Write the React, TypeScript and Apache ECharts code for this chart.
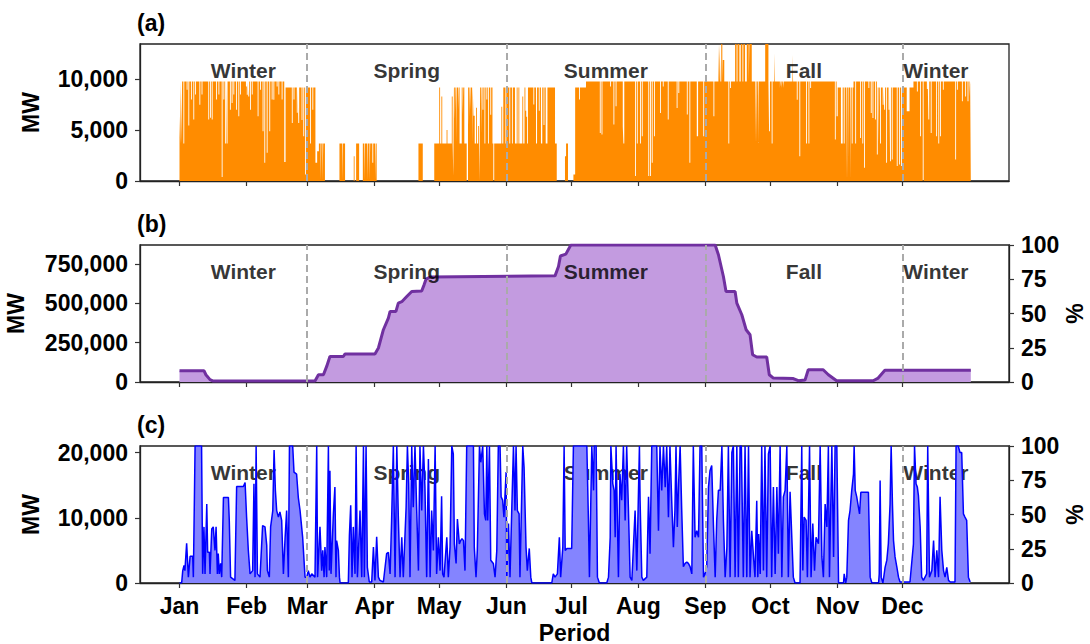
import React, { useEffect, useRef } from "react";
import * as echarts from "echarts";

// ---- calendar / axis data ----
const MONTHS = ["Jan", "Feb", "Mar", "Apr", "May", "Jun", "Jul", "Aug", "Sep", "Oct", "Nov", "Dec"];
const MONTH_START_DAYS = [0, 31, 59, 90, 120, 151, 181, 212, 243, 273, 304, 334];
const SEASON_NAMES = ["Winter", "Spring", "Summer", "Fall", "Winter"];
const SEASON_MID_DAYS = [29.5, 105, 197, 288.5, 349.5];
const SEASON_BOUNDARY_DAYS = [59, 151, 243, 334];

const A_MAX = 13450;
const B_MAX = 870000;
const C_MAX = 21000;
const A_TICKS = [0, 5000, 10000];
const B_TICKS = [0, 250000, 500000, 750000];
const C_TICKS = [0, 10000, 20000];
const PCT_TICKS = [0, 25, 50, 75, 100];

// ---- (a) dispatched power, step data: [day, MW] held until the next point ----
const dispatchA: [number, number][] = [
  [0, 6400], [0.3, 3680], [0.6, 9770], [0.9, 3680], [1.2, 9770],
  [1.8, 3680], [2.2, 9770], [3.3, 8960], [3.7, 9770], [4.1, 5440], [4.5, 9770],
  [5.3, 8000], [5.7, 9770], [6.4, 6030], [6.8, 9770], [7.2, 8500], [7.6, 9770],
  [9.2, 7490], [9.6, 9770], [10.2, 8500], [10.6, 9770], [13.3, 6030], [13.7, 9770],
  [14.1, 6200], [14.5, 9770], [14.9, 6030], [15.3, 9770], [16.9, 8000], [17.3, 9770],
  [18.0, 8500], [18.4, 9770], [19.5, 390], [19.9, 9770], [20.3, 8000], [20.7, 9770],
  [21.1, 3680], [21.5, 9770], [21.8, 3680], [22.2, 9770], [23.3, 7000], [23.7, 9770],
  [24.1, 7650], [24.5, 9770], [24.9, 8500], [25.3, 9770], [26.1, 7000], [26.5, 9770],
  [27.2, 6350], [27.6, 9770], [28.0, 8500], [28.4, 9770], [30.7, 9280], [31.1, 8470],
  [31.5, 9770], [31.8, 8300], [32.2, 9770], [32.6, 7000], [33.0, 9770], [33.4, 8500],
  [33.8, 9770], [36.1, 6350], [36.5, 9770], [37.2, 8960], [37.6, 9770], [38.4, 4890],
  [38.8, 9770], [39.2, 1790], [39.6, 9770], [40.3, 2770], [40.7, 9770], [41.5, 4890],
  [41.9, 9770], [42.6, 8000], [43.0, 9770], [43.4, 7980], [43.8, 9770], [44.9, 9280],
  [45.3, 9770], [45.7, 8500], [46.1, 9770], [47.2, 8000], [47.6, 9770], [48.4, 1860],
  [49.0, 9190], [51.9, 5700], [52.3, 9190], [52.7, 8000], [53.1, 9190], [54.2, 6700],
  [54.6, 9190], [54.9, 5700], [55.3, 9190], [56.4, 6000], [56.8, 9190], [57.2, 4400],
  [57.6, 9190], [58.0, 650], [58.4, 9190], [60.3, 3680], [60.7, 9190], [61.4, 7000],
  [61.8, 9190], [62.8, 1790], [63.6, 2930], [64.4, 3680], [65.2, 0], [65.5, 3680],
  [66.1, 0], [66.4, 3680], [67.2, 0],
  [73.9, 3680], [75.1, 0], [75.4, 3680], [76.5, 0], [80.5, 2440], [80.9, 0],
  [81.6, 3680], [83.0, 0], [84.7, 3680], [85.3, 0], [85.6, 3680], [86.7, 0],
  [87.0, 3680], [87.8, 0], [88.1, 3680], [89.1, 1800], [89.5, 3680], [90.4, 0],
  [90.7, 3680], [91.1, 0], [110.4, 3680], [112.4, 0],
  [117.7, 3680], [120.0, 9190], [120.4, 3680], [121.0, 8300], [121.4, 3680],
  [123.4, 5000], [123.8, 3680], [125.8, 8300], [126.2, 3680], [126.5, 500],
  [126.8, 9190], [127.2, 6000], [127.5, 9190], [127.9, 3680], [128.2, 9190],
  [128.7, 7000], [129.0, 9190], [129.4, 3680], [130.4, 9190], [130.8, 6500],
  [131.1, 9190], [131.6, 3680], [132.7, 0], [133.3, 9190], [133.7, 5500],
  [134.0, 9190], [134.4, 7000], [134.7, 9190], [135.2, 3680], [135.5, 9190],
  [135.8, 6400], [136.4, 3680], [137.0, 7200], [137.4, 3680], [138.0, 5400],
  [138.4, 3680], [138.6, 0], [138.9, 9190], [139.3, 4500], [139.6, 9190],
  [140.0, 7000], [140.4, 9190], [140.9, 3680], [141.3, 9190], [141.8, 8000],
  [142.2, 9190], [142.6, 3680], [143.0, 9190], [143.6, 6500], [144.0, 9190],
  [144.6, 3680], [145.0, 0], [145.4, 3680], [148.7, 7300], [149.1, 3680],
  [149.6, 9190], [150.6, 3680], [151.0, 9190], [152.4, 3680], [152.8, 9190],
  [153.6, 3680], [154.0, 9190], [155.0, 3680], [155.8, 9190], [156.2, 3680],
  [156.6, 9190], [157.0, 3680], [158.4, 8300], [158.8, 3680], [159.4, 9190],
  [159.8, 6900], [160.2, 6300], [160.6, 3680], [161.0, 9190], [163.5, 7500],
  [163.9, 9190], [164.7, 3680], [165.2, 9190], [166.0, 6900], [166.4, 9190],
  [167.0, 3680], [167.6, 9190], [168.2, 5500], [168.6, 9190], [169.2, 3680],
  [170.0, 9190], [173.5, 3680], [174.3, 0], [178.1, 2440], [178.6, 3680],
  [179.5, 0], [182.0, 650], [182.8, 9190], [184.6, 8000], [185.0, 9190],
  [187.8, 9770], [194.2, 4720], [194.6, 9770], [195.0, 4560], [195.4, 9770],
  [198.9, 9280], [199.3, 9770], [200.5, 5540], [200.9, 9770], [201.5, 7330],
  [201.9, 9770], [204.8, 5370], [205.1, 3680], [205.5, 9770], [210.5, 490],
  [210.9, 9770], [211.3, 3680], [211.7, 9770], [212.8, 3680], [213.2, 9770],
  [213.6, 4400], [214.0, 9770], [216.6, 490], [217.0, 9770], [217.4, 490],
  [217.8, 9770], [218.2, 1790], [218.6, 9770], [219.3, 4400], [219.7, 9770],
  [222.0, 6680], [222.4, 9770], [223.3, 9280], [223.7, 9770], [225.6, 6030],
  [226.0, 9770], [229.7, 7160], [230.1, 9770], [230.5, 8630], [230.9, 9770],
  [234.4, 6520], [234.8, 9770], [235.6, 1790], [236.0, 9770], [239.0, 4400],
  [239.6, 9770], [242.0, 4400], [242.4, 9770], [246.7, 6350], [247.1, 9770],
  [249.0, 13450], [249.3, 9770], [249.6, 13450], [249.9, 9770], [250.3, 13450],
  [250.8, 9770], [251.0, 11890], [251.7, 9770], [253.6, 3680], [254.0, 9770],
  [254.4, 9120], [254.8, 9770], [256.7, 13450], [257.4, 9770], [257.8, 13450],
  [258.7, 9770], [259.3, 13450], [260.1, 9770], [260.5, 13450], [261.3, 9770],
  [262.1, 13450], [263.0, 9770], [263.3, 13450], [264.4, 9770], [265.9, 3680],
  [266.2, 9770], [266.6, 3680], [266.9, 9770], [267.4, 3680], [267.7, 9770],
  [270.6, 13450], [272.1, 9770], [272.4, 4890], [272.8, 9770], [273.6, 3680],
  [274.0, 9770], [274.7, 12540], [275.0, 9770], [277.4, 9120], [277.7, 9770],
  [278.2, 9120], [278.5, 9770], [279.0, 9120], [279.3, 9770], [283.2, 12380],
  [283.5, 9770], [285.2, 7980], [285.6, 9770], [286.4, 2430], [286.8, 9770],
  [289.5, 3680], [289.9, 9770], [290.6, 3680], [291.0, 9770], [291.4, 9120],
  [291.8, 9770], [302.8, 4070], [303.2, 9770], [303.6, 6350], [304.1, 9190],
  [305.6, 3680], [306.4, 9190], [306.9, 3680], [307.3, 9190], [308.0, 0],
  [308.3, 9190], [308.8, 0], [309.1, 9190], [309.8, 0], [310.1, 9190],
  [310.6, 3680], [311.0, 9190], [311.4, 9770], [312.2, 3680], [312.6, 9770],
  [314.4, 4230], [314.8, 9770], [315.5, 3680], [315.9, 9770], [316.3, 1300],
  [316.7, 9770], [318.3, 9120], [318.7, 9770], [319.4, 6680], [319.8, 9770],
  [320.2, 6190], [320.6, 9770], [321.4, 6030], [321.8, 9770], [322.2, 2600],
  [322.6, 9190], [323.0, 3680], [323.3, 9190], [323.7, 3680], [324.1, 9190],
  [324.9, 7490], [325.3, 9190], [325.6, 7000], [326.0, 9190], [326.5, 1790],
  [326.9, 9190], [327.6, 7000], [328.0, 9190], [328.3, 1950], [328.7, 9190],
  [329.1, 2120], [329.5, 9190], [331.4, 1470], [331.8, 9190], [332.5, 1630],
  [332.9, 9190], [333.4, 1470], [333.8, 9190], [336.0, 6840], [337.3, 9190],
  [339.1, 9770], [340.7, 8790], [341.1, 9770], [342.2, 4400], [342.6, 9770],
  [343.4, 0], [343.8, 9770], [345.3, 9020], [345.7, 9770], [346.0, 6030],
  [346.4, 9770], [347.1, 4720], [347.5, 9770], [349.6, 4400], [350.0, 9770],
  [350.6, 3680], [351.0, 9770], [351.4, 4400], [351.8, 9770], [352.7, 8960],
  [353.1, 9770], [358.4, 2120], [358.8, 9770], [359.2, 8960], [359.6, 9770],
  [361.5, 7820], [361.9, 9770], [363.0, 8300], [363.4, 9770], [364.1, 7820],
  [364.5, 9770], [365.0, 8300], [365.3, 9770], [365.6, 0],
];

// ---- (b) stored level: [day, MW] ----
const storageB: [number, number][] = [
  [0, 72000], [11.3, 72000], [12.2, 46000], [14.1, 15000], [15.6, 6000], [62.6, 6000],
  [64.2, 46000], [66.5, 46000], [68.0, 99000], [69.5, 162000], [75.7, 162000],
  [76.5, 178000], [90.3, 178000], [91.9, 216000], [94.2, 332000], [96.5, 406000],
  [97.3, 448000], [100.0, 448000], [101.1, 501000], [102.7, 510000], [105.0, 543000],
  [107.3, 575000], [111.9, 578000], [113.0, 617000], [113.9, 653000], [115.8, 666000],
  [173.5, 674000], [175.1, 733000], [176.0, 800000], [178.5, 812000], [180.8, 870000],
  [247.5, 870000], [249.0, 808000], [251.3, 670000], [252.5, 575000], [256.7, 575000],
  [257.5, 501000], [259.8, 427000], [261.8, 332000], [263.6, 300000], [264.8, 173000],
  [266.7, 159000], [271.3, 159000], [272.5, 46000], [274.4, 25000], [283.6, 22000],
  [285.9, 8000], [289.0, 12000], [290.5, 78000], [297.4, 78000], [299.8, 46000],
  [303.6, 8000], [320.5, 8000], [322.8, 25000], [325.9, 74000], [365.6, 74000],
];

// ---- (c) flow: [day, MW] ----
const flowC: [number, number][] = [
  [0, 0], [1.0, 0], [1.5, 1900], [2.1, 2700], [2.5, 1900], [3.3, 6100], [4.1, 900], [4.9, 4100],
  [6.1, 4100], [6.4, 900], [7.2, 21000], [10.2, 21000], [10.7, 1400], [11.3, 8600], [11.8, 1400],
  [12.6, 12100], [13.0, 4700], [13.8, 4700], [14.1, 1400], [14.9, 8300], [15.6, 8600], [16.4, 5000],
  [16.9, 8600], [17.5, 1400], [17.9, 4500], [18.4, 1400], [19.0, 3000], [19.5, 900], [20.3, 13100],
  [22.6, 13100], [23.0, 9600], [23.6, 900], [25.6, 400], [26.4, 14800], [29.5, 14800], [30.3, 15400],
  [31.0, 10100], [31.8, 5000], [32.6, 1400], [33.8, 1900], [34.4, 15200], [34.9, 900], [35.4, 21000],
  [36.0, 1400], [37.2, 900], [38.4, 8800], [39.5, 8600], [40.3, 5800], [40.6, 1900], [41.5, 900],
  [42.1, 8600], [43.1, 11100], [43.7, 20400], [44.3, 14200], [44.9, 11100], [45.7, 10100],
  [46.4, 10900], [47.2, 9600], [48.0, 1400], [48.8, 7000], [49.5, 11100], [50.3, 900], [50.8, 21000],
  [52.3, 21000], [52.9, 17000], [54.1, 16700], [54.9, 13100], [55.7, 11100], [56.9, 7000], [58.0, 900],
  [58.8, 900], [59.5, 1900], [60.3, 900], [61.1, 1400], [62.6, 900], [63.4, 21000], [63.8, 900],
  [64.9, 8600], [65.7, 1900], [66.2, 5000], [66.8, 900], [67.2, 5500], [68.0, 900], [68.8, 21000],
  [69.2, 1900], [69.5, 17200], [70.0, 1400], [71.1, 10600], [71.8, 14700], [72.3, 900], [72.6, 6500],
  [73.4, 5000], [73.9, 900], [74.2, 0], [78.0, 0], [78.5, 7300], [79.1, 11900], [79.7, 900],
  [80.3, 8600], [81.1, 1400], [81.6, 21000], [82.2, 900], [82.6, 4000], [83.4, 11100], [84.2, 900],
  [85.0, 21000], [85.4, 900], [86.2, 21000], [86.8, 2400], [87.7, 150], [88.8, 150], [89.6, 5500],
  [90.3, 400], [91.1, 7100], [91.9, 900], [92.6, 400], [94.2, 150], [95.7, 4500], [96.5, 4700],
  [97.3, 1400], [98.0, 9600], [98.8, 21000], [99.6, 900], [100.4, 21000], [101.1, 10100], [101.9, 900],
  [102.7, 7000], [103.4, 900], [104.7, 11600], [105.3, 21000], [105.9, 15200], [106.5, 900],
  [107.3, 21000], [108.0, 11600], [108.8, 21000], [109.6, 11100], [110.4, 1900], [111.1, 21000],
  [111.9, 11100], [112.7, 21000], [113.4, 14700], [114.2, 900], [115.0, 19000], [115.8, 900],
  [116.5, 11100], [117.3, 5000], [118.1, 21000], [118.8, 1400], [119.6, 7000], [120.4, 1900],
  [121.1, 13300], [121.6, 1400], [122.2, 900], [123.5, 7000], [124.2, 900], [125.0, 5500],
  [125.8, 21000], [126.5, 19800], [127.0, 6000], [127.8, 3000], [128.4, 9800], [129.3, 6000],
  [129.9, 6500], [130.5, 6800], [131.2, 6500], [131.9, 1900], [132.7, 21000], [135.8, 21000],
  [136.2, 5500], [137.0, 900], [137.6, 5000], [138.6, 21000], [139.2, 18500], [140.1, 21000],
  [140.9, 10600], [141.5, 9600], [142.0, 21000], [142.4, 9600], [143.2, 21000], [143.8, 3500],
  [145.0, 3000], [145.8, 900], [146.6, 5000], [147.3, 21000], [148.1, 21000], [148.6, 13200],
  [149.3, 12700], [149.9, 10100], [150.9, 17000], [151.2, 900], [152.0, 9100], [152.7, 900],
  [153.5, 11100], [154.3, 21000], [155.0, 11100], [155.5, 21000], [156.1, 11100], [156.9, 10600],
  [157.3, 900], [158.6, 21000], [159.2, 17700], [160.1, 5500], [160.7, 1900], [161.6, 5300],
  [162.3, 900], [162.8, 0], [172.0, 0], [172.7, 1400], [173.5, 900], [174.6, 1400], [175.5, 7000],
  [176.1, 900], [177.1, 5500], [177.7, 21000], [178.2, 5000], [179.0, 5300], [181.2, 5300],
  [182.0, 21000], [188.2, 21000], [188.9, 10100], [189.4, 900], [190.5, 21000], [191.3, 14200],
  [191.6, 21000], [192.5, 21000], [193.1, 900], [194.0, 0], [197.4, 0], [198.2, 900], [199.0, 7000],
  [199.3, 21000], [200.2, 15200], [200.8, 14200], [201.3, 7000], [201.7, 21000], [202.8, 900],
  [203.5, 16700], [204.3, 12700], [205.1, 21000], [205.9, 9600], [206.6, 21000], [207.4, 11600],
  [208.2, 900], [209.0, 400], [210.5, 11100], [211.3, 1900], [212.5, 21000], [212.8, 12700],
  [213.6, 900], [214.3, 400], [215.9, 900], [216.7, 13200], [217.4, 4500], [218.2, 21000],
  [220.5, 21000], [221.3, 8000], [222.0, 21000], [222.8, 14200], [223.6, 21000], [224.4, 14700],
  [225.1, 21000], [225.9, 10100], [226.6, 21000], [227.4, 12700], [228.2, 5500], [228.9, 11100],
  [229.4, 21000], [230.0, 8600], [230.6, 15200], [231.3, 21000], [232.0, 11600], [232.8, 2500],
  [233.6, 3000], [234.4, 3200], [235.1, 3000], [235.9, 2500], [236.7, 1400], [237.4, 21000],
  [238.2, 7000], [239.0, 8000], [239.8, 7000], [240.5, 21000], [241.3, 21000], [242.1, 900],
  [242.8, 1400], [243.6, 2500], [244.4, 14700], [245.1, 17200], [245.9, 18000], [246.7, 8800],
  [247.5, 900], [248.2, 9600], [249.0, 14200], [249.8, 14200], [250.6, 21000], [251.3, 9600],
  [252.1, 900], [252.9, 5500], [253.6, 21000], [254.4, 900], [255.2, 20000], [255.9, 21000],
  [256.7, 900], [257.5, 21000], [258.2, 900], [259.0, 21000], [259.6, 21000], [260.5, 900],
  [261.3, 21000], [262.1, 900], [262.9, 21000], [263.6, 900], [264.4, 8000], [265.2, 4000],
  [265.9, 900], [266.7, 12600], [267.2, 900], [267.6, 7500], [268.3, 1400], [269.0, 21000],
  [269.8, 1900], [270.5, 21000], [271.3, 900], [272.1, 19800], [272.9, 21000], [273.6, 900],
  [274.4, 14700], [275.2, 1400], [276.0, 14700], [276.7, 4500], [277.5, 21000], [278.3, 900],
  [279.0, 13200], [279.8, 14200], [280.6, 21000], [281.3, 900], [282.1, 14000], [282.9, 7000],
  [283.6, 900], [284.4, 0], [286.7, 0], [287.5, 21000], [288.0, 1900], [288.6, 10100], [289.5, 9600],
  [290.1, 900], [291.1, 21000], [291.8, 900], [292.6, 9100], [293.4, 1900], [294.1, 7000],
  [295.2, 6000], [296.0, 21000], [296.8, 4000], [297.5, 900], [298.3, 12100], [299.1, 8600],
  [299.8, 21000], [300.3, 900], [301.4, 21000], [302.2, 4000], [302.9, 21000], [303.7, 21000],
  [304.5, 0], [306.8, 0], [307.1, 1400], [307.8, 0], [308.3, 900], [309.1, 9600], [309.8, 11100],
  [310.6, 14200], [311.4, 16700], [311.7, 21000], [312.2, 14200], [312.9, 13200], [313.7, 11600],
  [314.2, 10600], [314.8, 13900], [318.3, 13900], [319.1, 900], [319.9, 0], [323.0, 0],
  [323.3, 1400], [323.7, 15700], [324.2, 900], [325.0, 0], [326.0, 2400], [326.8, 3500],
  [327.5, 6000], [328.3, 12100], [328.8, 21000], [329.4, 12100], [329.9, 6500], [330.6, 4000],
  [331.4, 2500], [332.2, 900], [332.9, 150], [337.5, 150], [339.1, 6000], [339.6, 21000],
  [340.3, 15200], [340.9, 14700], [341.4, 13400], [342.2, 8600], [342.9, 900], [343.7, 400],
  [345.2, 1400], [345.7, 21000], [346.5, 900], [347.6, 1900], [348.4, 6500], [349.1, 900],
  [349.9, 5000], [350.7, 900], [351.4, 13200], [352.2, 5000], [353.0, 1900], [353.7, 900],
  [354.5, 2400], [355.3, 400], [356.1, 150], [358.3, 150], [358.8, 21000], [359.8, 21000],
  [360.6, 20000], [361.4, 20000], [362.2, 10600], [362.9, 10100], [363.7, 9600], [364.5, 900],
  [365.3, 150],
];

const FONT = "'Liberation Sans', Arial, Helvetica, sans-serif";
const GRID_TOPS = [44, 245, 446];
const GRID_HEIGHT = 137;
const GRID_LEFT = 140;
const GRID_RIGHT = 81;
const X_MIN = -18.25;
const X_MAX = 383.25;

const fmt = (v: number) => Math.round(v).toLocaleString("en-US");

function buildOption() {
  const tickFont = { fontFamily: FONT, fontWeight: "bold" as const, fontSize: 23, color: "#000" };
  const nameFont = { fontFamily: FONT, fontWeight: "bold" as const, fontSize: 23, color: "#000" };
  const axisLine = { show: true, onZero: false, lineStyle: { color: "#222", width: 1.3 } };
  const axisTick = (vals: number[]) => ({
    show: true, customValues: vals, length: 5, inside: false, lineStyle: { color: "#333", width: 1.2 },
  });

  const grid = GRID_TOPS.map((top) => ({
    left: GRID_LEFT, right: GRID_RIGHT, top, height: GRID_HEIGHT,
    containLabel: false, outerBoundsMode: "none",
    show: true, borderColor: "#222", borderWidth: 1.3, backgroundColor: "transparent",
  }));

  const xAxis = [0, 1, 2].map((i) => ({
    type: "value", gridIndex: i, min: X_MIN, max: X_MAX,
    splitLine: { show: false },
    axisLine,
    axisTick: axisTick(MONTH_START_DAYS),
    axisLabel: {
      show: i === 2, customValues: MONTH_START_DAYS, margin: 11, ...tickFont,
      formatter: (v: number) => {
        const k = MONTH_START_DAYS.indexOf(Math.round(v));
        return k >= 0 ? MONTHS[k] : "";
      },
    },
    name: i === 2 ? "Period" : "",
    nameLocation: "middle", nameGap: 38, nameTextStyle: nameFont,
  }));

  const leftAxis = (gridIndex: number, max: number, ticks: number[], gap: number) => ({
    type: "value", gridIndex, position: "left", min: 0, max,
    splitLine: { show: false },
    axisLine, axisTick: axisTick(ticks),
    axisLabel: { customValues: ticks, margin: 12, ...tickFont, formatter: (v: number) => fmt(v) },
    name: "MW", nameLocation: "middle", nameGap: gap, nameRotate: 90, nameTextStyle: nameFont,
  });
  const rightAxis = (gridIndex: number) => ({
    type: "value", gridIndex, position: "right", min: 0, max: 100,
    splitLine: { show: false },
    axisLine, axisTick: axisTick(PCT_TICKS),
    axisLabel: { customValues: PCT_TICKS, margin: 12, ...tickFont, formatter: (v: number) => String(v) },
  });

  const yAxis = [
    leftAxis(0, A_MAX, A_TICKS, 98),
    leftAxis(1, B_MAX, B_TICKS, 113),
    rightAxis(1),
    leftAxis(2, C_MAX, C_TICKS, 98),
    rightAxis(2),
  ];

  // rotated "%" names for the two right-hand axes
  const graphic = [1, 2].map((i) => ({
    type: "text",
    x: 1075,
    y: GRID_TOPS[i] + GRID_HEIGHT / 2,
    rotation: Math.PI / 2,
    style: {
      text: "%", fontFamily: FONT, fontWeight: "bold", fontSize: 23, fill: "#000",
      align: "center", verticalAlign: "middle",
    },
  }));

  const seasonLines = {
    silent: true, symbol: "none", animation: false,
    label: { show: false },
    lineStyle: { color: "#aaaaaa", type: [7, 4], width: 2 },
    data: SEASON_BOUNDARY_DAYS.map((d) => ({ xAxis: d })),
  };

  const seasonLabels = (xi: number, yi: number, max: number, z: number) => ({
    type: "scatter", xAxisIndex: xi, yAxisIndex: yi, z, silent: true,
    symbolSize: 1, itemStyle: { color: "transparent" },
    label: {
      show: true, position: "inside", formatter: (p: any) => p.data[2],
      fontFamily: FONT, fontWeight: "bold", fontSize: 21, color: "#000",
    },
    data: SEASON_MID_DAYS.map((d, k) => [d, max * 0.81, SEASON_NAMES[k]]),
  });

  const series = [
    {
      type: "line", xAxisIndex: 0, yAxisIndex: 0, step: "end", data: dispatchA,
      showSymbol: false, symbol: "none", z: 2,
      lineStyle: { width: 0, opacity: 0 },
      areaStyle: { color: "#ff8c00", opacity: 1 },
      markLine: seasonLines,
    },
    seasonLabels(0, 0, A_MAX, 5),
    {
      type: "line", xAxisIndex: 1, yAxisIndex: 1, data: storageB,
      showSymbol: false, symbol: "none", z: 2,
      lineStyle: { color: "#7030a0", width: 3 },
      areaStyle: { color: "#c39be0", opacity: 1 },
      markLine: seasonLines,
    },
    seasonLabels(1, 1, B_MAX, 5),
    seasonLabels(2, 3, C_MAX, 1),
    {
      type: "line", xAxisIndex: 2, yAxisIndex: 3, data: flowC,
      showSymbol: false, symbol: "none", z: 3,
      lineStyle: { color: "#0000ff", width: 1.5 },
      areaStyle: { color: "#8484ff", opacity: 1 },
      markLine: seasonLines,
    },
  ];

  const title = ["(a)", "(b)", "(c)"].map((t, i) => ({
    text: t, left: 137, top: GRID_TOPS[i] - 33, padding: 0,
    textStyle: { fontFamily: FONT, fontWeight: "bold", fontSize: 23, color: "#000" },
  }));

  return {
    animation: false,
    backgroundColor: "#ffffff",
    textStyle: { fontFamily: FONT },
    title, grid, xAxis, yAxis, series, graphic,
  };
}

export default function App() {
  const ref = useRef<HTMLDivElement>(null);
  useEffect(() => {
    if (!ref.current) return;
    const chart = echarts.init(ref.current, undefined, { renderer: "svg" });
    chart.setOption(buildOption() as any);
    return () => chart.dispose();
  }, []);
  return (
    <div
      ref={ref}
      style={{ position: "fixed", left: 0, top: 0, width: 1090, height: 644, background: "#fff" }}
    />
  );
}
